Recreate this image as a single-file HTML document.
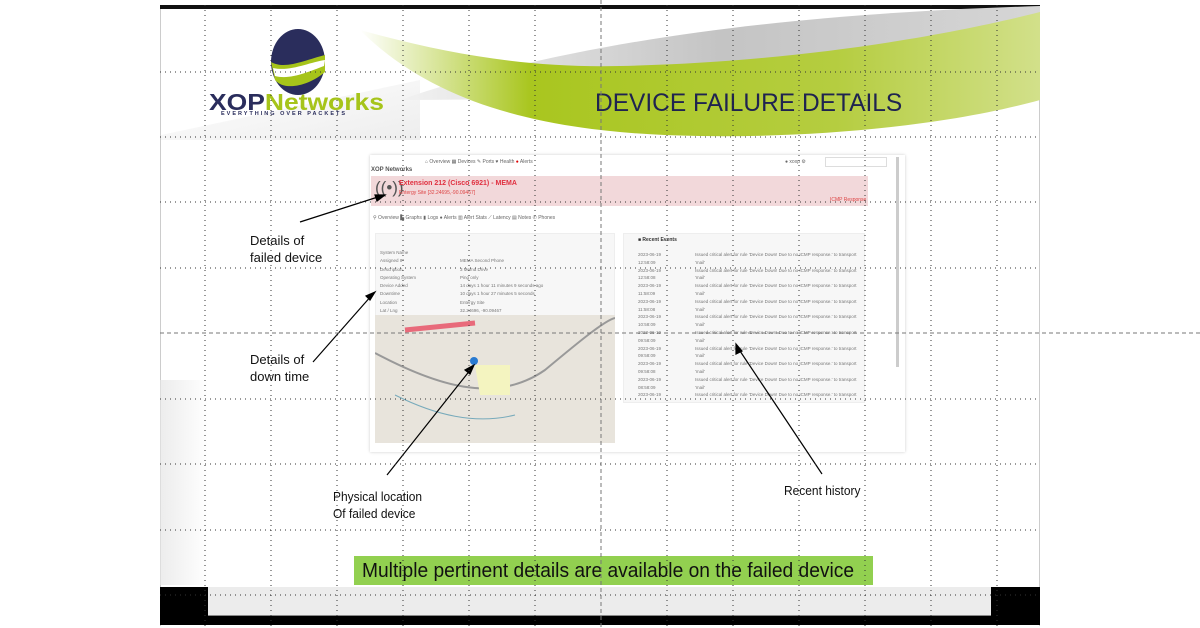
<!DOCTYPE html>
<html><head><meta charset="utf-8"><style>
*{margin:0;padding:0;box-sizing:border-box}
body{width:1200px;height:628px;background:#fff;position:relative;overflow:hidden;font-family:"Liberation Sans",sans-serif}
.a{position:absolute}
.lbl{position:absolute;font-size:13px;color:#111;line-height:17px}
.sm{font-size:5px;color:#666;white-space:nowrap}
</style></head><body>
<div class="a" style="left:160px;top:5px;width:880px;height:621px;background:#fff;border-left:1px solid #ccc;border-right:1px solid #ccc"></div>
<div class="a" style="left:160px;top:5px;width:880px;height:4px;background:#111"></div>
<svg class="a" style="left:0;top:0" width="1200" height="628">
<defs>
<linearGradient id="g1" x1="0" y1="0" x2="1" y2="0"><stop offset="0" stop-color="#fff"/><stop offset="0.25" stop-color="#a9c61f"/><stop offset="0.7" stop-color="#b5cd40"/><stop offset="1" stop-color="#d2e08a"/></linearGradient>
<linearGradient id="g2" x1="0" y1="0" x2="1" y2="0"><stop offset="0" stop-color="#f2f2f2"/><stop offset="0.5" stop-color="#c4c4c4"/><stop offset="1" stop-color="#d6d6d6"/></linearGradient>
<linearGradient id="g3" x1="0" y1="0" x2="1" y2="1"><stop offset="0" stop-color="#fff"/><stop offset="1" stop-color="#e6e6e6"/></linearGradient>
<linearGradient id="sh" x1="0" y1="0" x2="1" y2="0"><stop offset="0" stop-color="#e4e4e4"/><stop offset="1" stop-color="#fff"/></linearGradient>
</defs>
<path d="M161,135 L420,80 L420,140 L161,140 Z" fill="url(#g3)" opacity="0.7"/>
<path d="M400,100 C600,30 850,12 1040,6 L1040,40 C900,70 700,100 400,100 Z" fill="url(#g2)"/>
<path d="M360,30 C450,55 530,68 620,66 C800,62 950,35 1040,12 L1040,100 C950,125 820,138 700,136 C560,134 440,110 360,30 Z" fill="url(#g1)"/>
<rect x="160" y="380" width="48" height="205" fill="url(#sh)" opacity="0.7"/>
<ellipse cx="298" cy="62" rx="27" ry="33" fill="#2a2d5c"/>
<path d="M271,62 C285,70 305,60 325,55 L325,72 C310,85 285,92 275,80 Z" fill="#a6c41a"/>
<path d="M273,68 C290,72 310,62 325,60 L324,66 C308,72 290,80 275,76 Z" fill="#fff"/>
</svg>
<div class="a" style="left:209px;top:89px;font-size:23px;font-weight:bold;color:#2a2d5c;transform:scaleX(1.15);transform-origin:left;white-space:nowrap">XOP<span style="color:#a6c41a">Networks</span></div>
<div class="a" style="left:221px;top:111px;font-size:5.5px;font-weight:bold;letter-spacing:2px;color:#2a2d5c">EVERYTHING OVER PACKETS</div>
<div class="a" style="left:595px;top:89px;font-size:25px;color:#1f2350;transform:scaleX(0.98);transform-origin:left;white-space:nowrap">DEVICE FAILURE DETAILS</div>

<div class="a" style="left:370px;top:155px;width:535px;height:297px;background:#fff;box-shadow:0 0 3px #ccc">
<div class="a sm" style="left:55px;top:4px">⌂ Overview ▦ Devices ✎ Ports ♥ Health <span style="color:#d00">●</span> Alerts</div>
<div class="a sm" style="left:415px;top:4px">● xoxp ⚙</div>
<div class="a" style="left:455px;top:2px;width:62px;height:10px;border:1px solid #ddd"></div>
<div class="a" style="left:1px;top:12px;font-size:6px;font-weight:bold;color:#555">XOP Networks</div>
<div class="a" style="left:1px;top:21px;width:497px;height:30px;background:#f2d8da"></div>
<div class="a" style="left:5px;top:23px;font-size:17px;color:#555">((•))</div>
<div class="a" style="left:29px;top:25px;font-size:7px;font-weight:bold;color:#e03040">Extension 212 (Cisco 6921) - MEMA</div>
<div class="a sm" style="left:29px;top:35px;color:#d44">Entergy Site [32.24695,-90.09467]</div>
<div class="a sm" style="left:460px;top:42px;color:#d44">ICMP Response</div>
<div class="a sm" style="left:3px;top:60px">⚲ Overview ▙ Graphs ▮ Logs ● Alerts ▥ Alert Stats ⟋ Latency ▤ Notes ✆ Phones</div>
<div class="a" style="left:5px;top:78px;width:240px;height:210px;background:#f7f7f7;border:1px solid #eee"></div>
<div class="a" style="left:5px;top:160px;width:240px;height:128px;background:#e8e4dc"></div>
<svg class="a" style="left:5px;top:160px" width="240" height="128"><path d="M0,38 C60,70 120,90 170,55 C200,30 230,5 240,3" stroke="#999" stroke-width="2" fill="none"/><path d="M30,15 L100,8" stroke="#e86a7a" stroke-width="5"/><path d="M20,80 C60,100 100,110 140,100" stroke="#7ab" fill="none"/><path d="M100,50 h35 v30 h-30 z" fill="#f4f4c0"/><circle cx="99" cy="46" r="4" fill="#2a7bd1"/></svg>
<div class="a" style="left:253px;top:78px;width:242px;height:170px;background:#f7f7f7;border:1px solid #eee"></div>
<div class="a sm" style="left:268px;top:82px;font-weight:bold;color:#333">■ Recent Events</div>
<div class="a" style="left:526px;top:2px;width:3px;height:210px;background:#ccc"></div>
</div>
<div class="a" style="left:380px;top:249px;font-size:4.5px;color:#777;line-height:8.3px">System Name<br>Assigned IP<br>Description<br>Operating System<br>Device Added<br>Downtime<br>Location<br>Lat / Lng</div>
<div class="a" style="left:460px;top:249px;font-size:4.5px;color:#777;line-height:8.3px">&nbsp;<br>MEMA Second Phone<br>3 Mema Drive<br>Ping only<br>14 days 1 hour 11 minutes 9 seconds ago<br>10 days 1 hour 27 minutes 5 seconds<br>Entergy Site<br>32.24696, -90.09467</div>
<div class="a" style="left:638px;top:251px;font-size:4.5px;color:#777;line-height:7.8px">2023-06-19<br>12:58:09<br>2023-06-19<br>12:58:08<br>2023-06-19<br>11:58:09<br>2023-06-19<br>11:58:08<br>2023-06-19<br>10:58:09<br>2023-06-19<br>09:58:09<br>2023-06-19<br>09:58:09<br>2023-06-19<br>09:58:08<br>2023-06-19<br>08:58:09<br>2023-06-19</div>
<div class="a" style="left:695px;top:251px;font-size:4.5px;color:#777;line-height:7.8px">Issued critical alert for rule 'Device Down! Due to no ICMP response.' to transport<br>'mail'<br>Issued critical alert for rule 'Device Down! Due to no ICMP response.' to transport<br>'mail'<br>Issued critical alert for rule 'Device Down! Due to no ICMP response.' to transport<br>'mail'<br>Issued critical alert for rule 'Device Down! Due to no ICMP response.' to transport<br>'mail'<br>Issued critical alert for rule 'Device Down! Due to no ICMP response.' to transport<br>'mail'<br>Issued critical alert for rule 'Device Down! Due to no ICMP response.' to transport<br>'mail'<br>Issued critical alert for rule 'Device Down! Due to no ICMP response.' to transport<br>'mail'<br>Issued critical alert for rule 'Device Down! Due to no ICMP response.' to transport<br>'mail'<br>Issued critical alert for rule 'Device Down! Due to no ICMP response.' to transport<br>'mail'<br>Issued critical alert for rule 'Device Down! Due to no ICMP response.' to transport</div>

<div class="lbl" style="left:250px;top:232px">Details of<br>failed device</div>
<div class="lbl" style="left:250px;top:351px">Details of<br>down time</div>
<div class="lbl" style="left:333px;top:488px;transform:scaleX(0.92);transform-origin:left">Physical location<br>Of failed device</div>
<div class="lbl" style="left:784px;top:482px;transform:scaleX(0.92);transform-origin:left">Recent history</div>

<div class="a" style="left:354px;top:556px;width:519px;height:29px;background:#92d050"></div>
<div class="a" style="left:362px;top:560px;font-size:20px;color:#111;transform:scaleX(0.96);transform-origin:left;white-space:nowrap">Multiple pertinent details are available on the failed device</div>

<div class="a" style="left:160px;top:587px;width:880px;height:38px;background:#000"></div>
<div class="a" style="left:208px;top:587px;width:783px;height:29px;background:#ececec;border-bottom:1px solid #888"></div>

<svg class="a" style="left:0;top:0" width="1200" height="628">
<g stroke="#000" stroke-width="1.2" fill="#000">
<line x1="300" y1="222" x2="381" y2="196"/><polygon points="385,195 375,195 377,201"/>
<line x1="313" y1="362" x2="372" y2="295"/><polygon points="375,292 366,296 370,300"/>
<line x1="387" y1="475" x2="471" y2="369"/><polygon points="474,365 465,370 470,374"/>
<line x1="822" y1="474" x2="738" y2="348"/><polygon points="736,344 736,354 742,351"/>
</g>
<g stroke="#333" stroke-width="1" stroke-dasharray="1,4" fill="none">
<path d="M160,72H1040M160,137H1040M160,202H1040M160,268H1040M160,399H1040M160,464H1040M160,530H1040M160,595H1040"/>
<path d="M205,5V626M271,5V626M337,5V626M403,5V626M469,5V626M535,5V626M667,5V626M733,5V626M799,5V626M865,5V626M931,5V626M997,5V626"/>
</g>
<g stroke="#777" stroke-width="1" stroke-dasharray="4,3" fill="none"><path d="M160,333H1200M601,0V628"/></g>
</svg>
</body></html>
